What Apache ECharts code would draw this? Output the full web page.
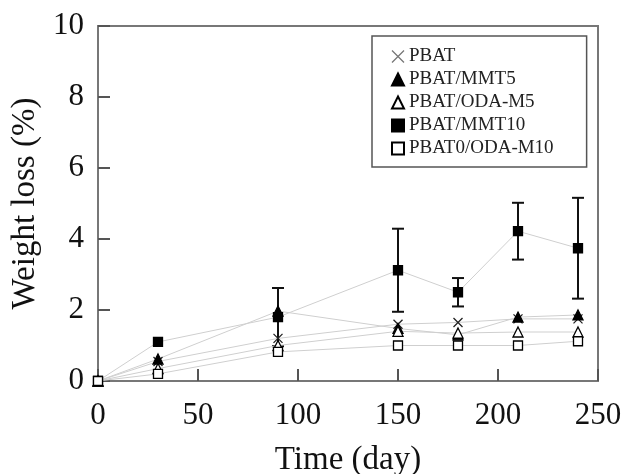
<!DOCTYPE html>
<html>
<head>
<meta charset="utf-8">
<script src="https://cdn.jsdelivr.net/npm/echarts@6/dist/echarts.min.js"></script>
<style>
  html, body { margin: 0; padding: 0; background: #fff; }
  #main { width: 626px; height: 474px; }
</style>
</head>
<body>
<div id="main"></div>
<script>
// sampling days
var days = [0, 30, 90, 150, 180, 210, 240];
// weight loss (%) per sample
var pbat = [0, 0.55, 1.2, 1.6, 1.65, 1.75, 1.75];
var mmt5 = [0, 0.62, 1.97, 1.48, 1.3, 1.8, 1.86];
var odaM5 = [0, 0.35, 1.0, 1.4, 1.35, 1.38, 1.38];
var mmt10 = [0, 1.1, 1.8, 3.12, 2.5, 4.22, 3.74];
var odaM10 = [0, 0.2, 0.82, 1.0, 1.0, 1.0, 1.12];
// error (+/-) for PBAT/MMT10
var mmt10Err = [0, 0, 0.82, 1.17, 0.4, 0.8, 1.42];

var names = ['PBAT', 'PBAT/MMT5', 'PBAT/ODA-M5', 'PBAT/MMT10', 'PBAT0/ODA-M10'];
var crossPath = 'path://M0,0L10,10M10,0L0,10';
var FONT = '"Liberation Serif", "Times New Roman", serif';

function pairs(ys) {
    return days.map(function (d, i) { return [d, ys[i]]; });
}

function makeLine(name, ys, symbol, size, fill, border) {
    return {
        name: name,
        type: 'line',
        data: pairs(ys),
        symbol: symbol,
        symbolSize: size,
        clip: false,
        z: 3,
        lineStyle: { color: '#cfcfcf', width: 1 },
        itemStyle: { color: fill, borderColor: border, borderWidth: 1.3 },
        emphasis: { disabled: true }
    };
}

var errData = [];
days.forEach(function (d, i) {
    if (mmt10Err[i] > 0) errData.push([d, mmt10[i], mmt10Err[i]]);
});

var chart = echarts.init(document.getElementById('main'));

var option = {
    animation: false,
    textStyle: { fontFamily: FONT },
    grid: {
        left: 98, right: 28, top: 26, bottom: 93,
        containLabel: false, outerBoundsMode: 'none',
        show: true, borderColor: '#777', borderWidth: 2
    },
    legend: {
        orient: 'vertical',
        left: 372, top: 36,
        padding: [11, 33, 9, 19],
        itemWidth: 12, itemHeight: 12, itemGap: 4,
        borderColor: '#555', borderWidth: 1.5,
        textStyle: { fontFamily: FONT, fontSize: 19, color: '#222' },
        data: [
            { name: names[0], icon: crossPath, itemStyle: { color: '#777', borderColor: '#777', borderWidth: 1.3 } },
            { name: names[1], icon: 'triangle' },
            { name: names[2], icon: 'triangle' },
            { name: names[3], icon: 'rect' },
            { name: names[4], icon: 'rect' }
        ]
    },
    xAxis: {
        type: 'value', min: 0, max: 250, interval: 50,
        name: 'Time (day)', nameLocation: 'middle', nameGap: 63,
        nameTextStyle: { fontFamily: FONT, fontSize: 33, color: '#111' },
        axisLine: { lineStyle: { color: '#777', width: 2 } },
        axisTick: { inside: true, length: 12, lineStyle: { color: '#555', width: 2 } },
        axisLabel: { fontFamily: FONT, fontSize: 31, color: '#111', margin: 19 },
        splitLine: { show: false }
    },
    yAxis: {
        type: 'value', min: 0, max: 10, interval: 2,
        name: 'Weight loss (%)', nameLocation: 'middle', nameGap: 53,
        nameTextStyle: { fontFamily: FONT, fontSize: 33, color: '#111' },
        axisLine: { lineStyle: { color: '#777', width: 2 } },
        axisTick: { inside: true, length: 12, lineStyle: { color: '#555', width: 2 } },
        axisLabel: { fontFamily: FONT, fontSize: 31, color: '#111', margin: 14 },
        splitLine: { show: false }
    },
    series: [
        {
            type: 'custom',
            name: 'err',
            z: 2,
            data: errData,
            clip: false,
            renderItem: function (params, api) {
                var x = api.value(0), y = api.value(1), e = api.value(2);
                var top = api.coord([x, y + e]);
                var bot = api.coord([x, y - e]);
                var cap = 6;
                var st = { stroke: '#111', lineWidth: 2 };
                return {
                    type: 'group',
                    children: [
                        { type: 'line', shape: { x1: top[0], y1: top[1], x2: bot[0], y2: bot[1] }, style: st },
                        { type: 'line', shape: { x1: top[0] - cap, y1: top[1], x2: top[0] + cap, y2: top[1] }, style: st },
                        { type: 'line', shape: { x1: bot[0] - cap, y1: bot[1], x2: bot[0] + cap, y2: bot[1] }, style: st }
                    ]
                };
            }
        },
        makeLine(names[0], pbat, crossPath, 9, '#222', '#222'),
        makeLine(names[1], mmt5, 'triangle', 10, '#000', '#000'),
        makeLine(names[2], odaM5, 'triangle', 10, '#fff', '#000'),
        makeLine(names[3], mmt10, 'rect', 9, '#000', '#000'),
        makeLine(names[4], odaM10, 'rect', 9, '#fff', '#000')
    ]
};

chart.setOption(option);
</script>
</body>
</html>
